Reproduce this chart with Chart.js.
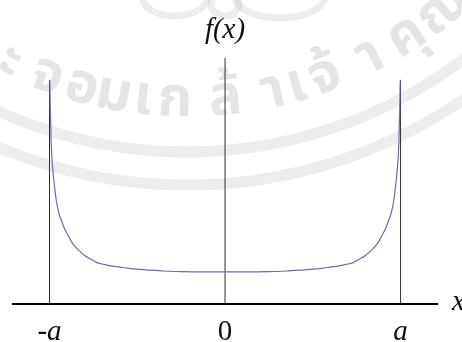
<!DOCTYPE html>
<html>
<head>
<meta charset="utf-8">
<script src="https://cdn.jsdelivr.net/npm/chart.js@4"></script>
<style>
  body { margin: 0; background: #fff; }
  canvas { display: block; }
</style>
</head>
<body>
<canvas id="densityGraph" width="462" height="342"></canvas>
<script>
// Densidade f(x) entre -a e a (a = 1)
const xVals = [-0.998, -0.995, -0.99, -0.98, -0.97, -0.96, -0.945, -0.93, -0.915, -0.9, -0.88, -0.86, -0.83, -0.8, -0.76, -0.73,
    -0.69, -0.65, -0.6, -0.55, -0.5, -0.45, -0.35, -0.25, -0.12,
    0, 0.12, 0.25, 0.35, 0.45, 0.5, 0.55, 0.6, 0.65, 0.69,
    0.73, 0.76, 0.8, 0.83, 0.86, 0.88, 0.9, 0.915, 0.93, 0.945, 0.96, 0.97, 0.98, 0.99, 0.995, 0.998];
const fVals = [7.45, 6.4, 5.3, 4.4, 3.85, 3.4, 3.0, 2.75, 2.52, 2.35, 2.13, 1.95, 1.77, 1.62, 1.48, 1.38,
    1.32, 1.27, 1.23, 1.19, 1.16, 1.14, 1.1, 1.08, 1.07,
    1.07, 1.07, 1.08, 1.1, 1.14, 1.16, 1.19, 1.23, 1.27, 1.32,
    1.38, 1.48, 1.62, 1.77, 1.95, 2.13, 2.35, 2.52, 2.75, 3.0, 3.4, 3.85, 4.4, 5.3, 6.4, 7.45];

// Linhas verticais em -a, 0 e a
const guideX = [-1, 0, 1];
const guideTop = [7.47, 8.2, 7.47];
const tickLabels = ['-a', '0', 'a'];

// Eixo x
const axisSpan = [-1.214, 1.214];

// Marca d'água (selo)
const sealText = ['ะ', 'จ', 'อ', 'ม', 'เ', 'ก', 'ล้', 'า', 'เ', 'จ้', 'า', 'คุ', 'ณ'];
const sealAngles = [115.7, 110.1, 105.0, 100.4, 96.2, 91.7, 84.6, 77.8, 74.3, 70.1, 63.2, 57.3, 50.8];

const curve = xVals.map((x, i) => ({ x: x, y: fVals[i] }));

const datasets = [{
    data: curve,
    borderWidth: 1.2,
    borderColor: '#6c6ca8',
    pointRadius: 0,
    cubicInterpolationMode: 'monotone'
}, {
    data: axisSpan.map(x => ({ x: x, y: 0 })),
    borderWidth: 2,
    borderColor: '#000',
    pointRadius: 0
}];

guideX.forEach((gx, i) => {
    datasets.push({
        data: [{ x: gx, y: 0 }, { x: gx, y: guideTop[i] }],
        borderWidth: 1,
        borderColor: '#2e2e2e',
        pointRadius: 0
    });
});

const serif = '"Liberation Serif", "Times New Roman", "DejaVu Serif", serif';

const sealPlugin = {
    id: 'seal',
    beforeDatasetsDraw(chart) {
        const ctx = chart.ctx;
        const cx = 187, cy = -305;
        ctx.save();
        ctx.strokeStyle = 'rgba(0, 0, 0, 0.07)';
        ctx.lineWidth = 11;
        [457, 490].forEach(r => {
            ctx.beginPath();
            ctx.arc(cx, cy, r, 0, Math.PI);
            ctx.stroke();
        });
        // enfeite do topo
        ctx.lineWidth = 7;
        ctx.beginPath();
        ctx.ellipse(175, -2, 32, 18, 0, 0, Math.PI);
        ctx.stroke();
        ctx.beginPath();
        ctx.ellipse(280, -4, 45, 22, 0, 0, Math.PI);
        ctx.stroke();
        ctx.beginPath();
        ctx.ellipse(225, 4, 14, 12, 0, 0, Math.PI * 2);
        ctx.stroke();

        ctx.fillStyle = 'rgba(0, 0, 0, 0.1)';
        ctx.font = 'bold 56px "Noto Sans Thai", "Loma", "Garuda", "Norasi", "DejaVu Sans", sans-serif';
        ctx.textAlign = 'center';
        ctx.textBaseline = 'middle';
        sealText.forEach((ch, i) => {
            const a = sealAngles[i] * Math.PI / 180;
            ctx.save();
            ctx.translate(cx + 410 * Math.cos(a), cy + 410 * Math.sin(a));
            ctx.rotate(a - Math.PI / 2);
            ctx.fillText(ch, 0, 0);
            ctx.restore();
        });
        ctx.restore();
    }
};

const labelPlugin = {
    id: 'labels',
    afterDraw(chart) {
        const ctx = chart.ctx;
        const xs = chart.scales.x, ys = chart.scales.y;
        ctx.save();
        ctx.fillStyle = '#111';
        ctx.textBaseline = 'alphabetic';
        ctx.textAlign = 'center';
        tickLabels.forEach((t, i) => {
            ctx.font = (t === '0' ? '' : 'italic ') + '29px ' + serif;
            ctx.fillText(t, xs.getPixelForValue(guideX[i]), 340);
        });
        ctx.font = 'italic 29px ' + serif;
        ctx.fillText('f(x)', xs.getPixelForValue(0), 38);
        ctx.textAlign = 'left';
        ctx.textBaseline = 'middle';
        ctx.fillText('x', 452, ys.getPixelForValue(0) - 2);
        ctx.restore();
    }
};

const ctx = document.getElementById('densityGraph').getContext('2d');
new Chart(ctx, {
    type: 'line',
    data: { datasets: datasets },
    options: {
        responsive: false,
        animation: false,
        layout: { padding: 0 },
        plugins: { legend: { display: false }, tooltip: { enabled: false } },
        scales: {
            x: { type: 'linear', min: -1.282, max: 1.35, display: false },
            y: { min: -1.267, max: 10.133, display: false }
        }
    },
    plugins: [sealPlugin, labelPlugin]
});
</script>
</body>
</html>
